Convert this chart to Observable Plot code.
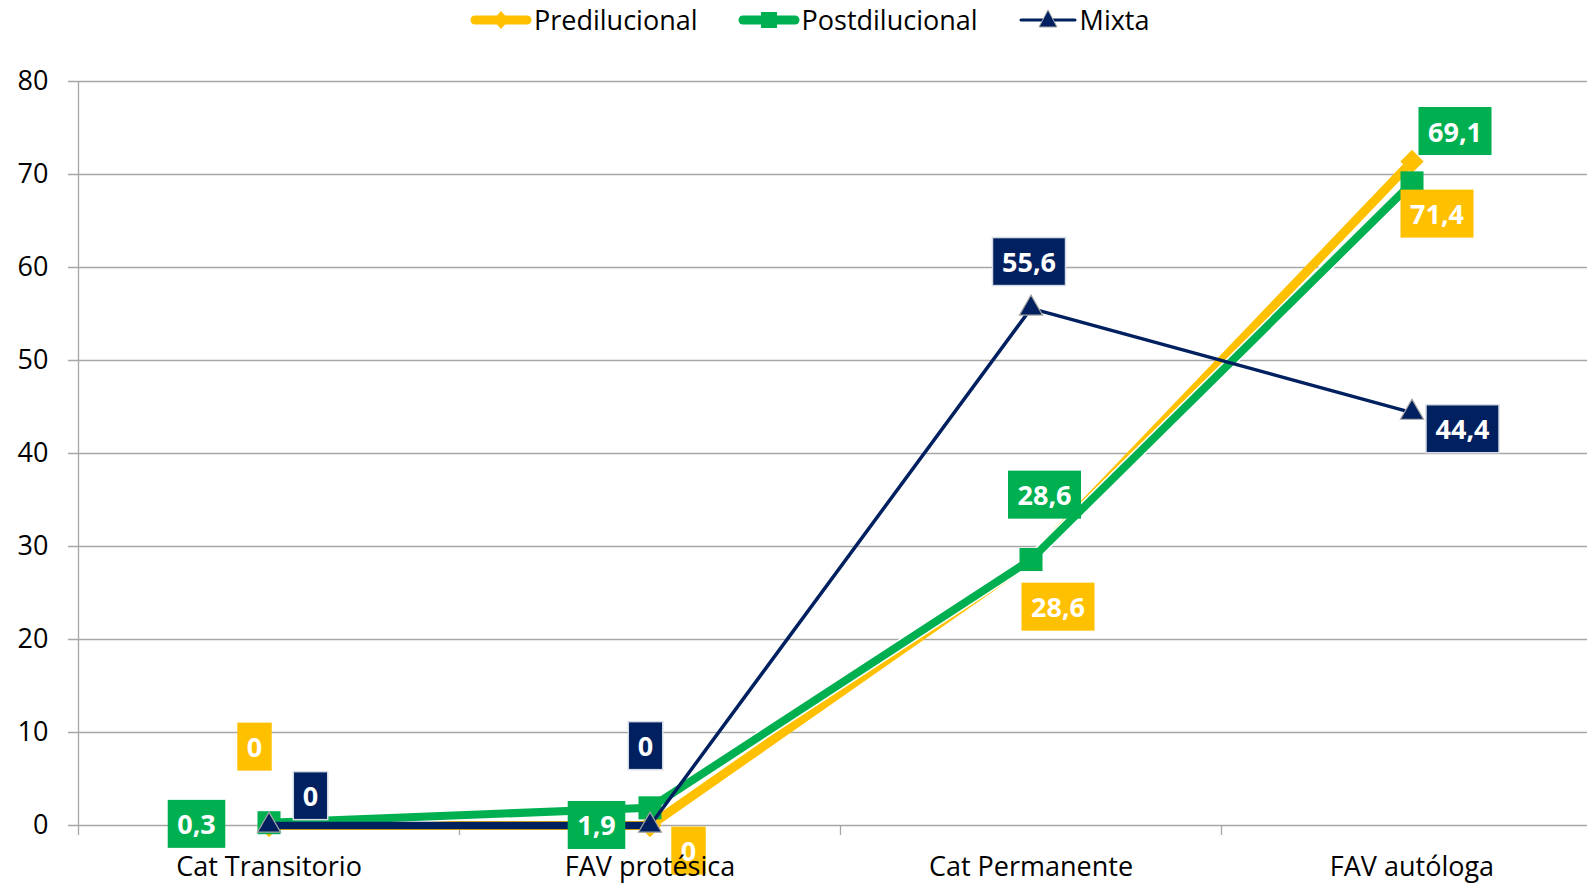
<!DOCTYPE html>
<html>
<head>
<meta charset="utf-8">
<script src="https://cdn.jsdelivr.net/npm/d3@7"></script>
<script src="https://cdn.jsdelivr.net/npm/@observablehq/plot@0.6"></script>
<style>
  body { margin: 0; background: #fff; font-family: "Open Sans", sans-serif; }
  #wrap { width: 1587px; height: 887px; overflow: hidden; position: relative; }
  #legend { height: 40px; display: flex; align-items: center; padding-left: 470px; box-sizing: border-box; }
  .item { display: flex; align-items: center; margin-right: 40px; font-size: 27px; color: #000; line-height: 40px; }
  .item svg { margin-right: 2px; }
  #chart svg { display: block; }
</style>
</head>
<body>
<div id="wrap">
  <div id="legend"></div>
  <div id="chart"></div>
</div>
<script>
// ---- data ----
const categories = ["Cat Transitorio", "FAV protésica", "Cat Permanente", "FAV autóloga"];
const predilucional = [0, 0, 28.6, 71.4];
const postdilucional = [0.3, 1.9, 28.6, 69.1];
const mixta = [0, 0, 55.6, 44.4];
const yTicks = [0, 10, 20, 30, 40, 50, 60, 70, 80];
const seriesNames = ["Predilucional", "Postdilucional", "Mixta"];

// ---- styles ----
const colors = { Predilucional: "#FFC000", Postdilucional: "#00B050", Mixta: "#002060" };
const gridColor = "#a6a6a6";
// label offsets (px) relative to the data point
const labelOffsets = {
  Predilucional: [[-14.5, -77], [38.5, 27], [27, 49], [25, 54]],
  Postdilucional: [[-72.5, 3], [-53.5, 19], [13.5, -63], [43, -50]],
  Mixta: [[41.5, -28], [-4.5, -78], [-2, -45], [50.5, 18]]
};

const toRows = (vals, s) => vals.map((v, i) => ({ series: s, i, cat: categories[i], v }));
const pred = toRows(predilucional, "Predilucional");
const post = toRows(postdilucional, "Postdilucional");
const mix = toRows(mixta, "Mixta");
const bySeries = { Predilucional: pred, Postdilucional: post, Mixta: mix };
const fmt = v => String(v).replace(".", ",");

// ---- legend ----
const legend = document.getElementById("legend");
const swatches = {
  Predilucional: `<svg width="62" height="40"><line x1="5" y1="20" x2="57" y2="20" stroke="${colors.Predilucional}" stroke-width="9" stroke-linecap="round"/><path d="M31,11 L39,20 L31,29 L23,20Z" fill="${colors.Predilucional}"/></svg>`,
  Postdilucional: `<svg width="62" height="40"><line x1="5" y1="20" x2="57" y2="20" stroke="${colors.Postdilucional}" stroke-width="9" stroke-linecap="round"/><rect x="23" y="12" width="16" height="16" fill="${colors.Postdilucional}"/></svg>`,
  Mixta: `<svg width="60" height="40"><line x1="3" y1="20" x2="57" y2="20" stroke="${colors.Mixta}" stroke-width="3" stroke-linecap="round"/><path d="M30,10 L39,27 L21,27Z" fill="${colors.Mixta}" stroke="#a6a6a6" stroke-width="1"/></svg>`
};
for (const s of seriesNames) {
  const d = document.createElement("div");
  d.className = "item";
  d.innerHTML = swatches[s] + `<span>${s}</span>`;
  legend.appendChild(d);
}

// ---- chart ----
const labelMarks = [];
const labelSeries = [];
for (const s of seriesNames) {
  bySeries[s].forEach((row, k) => {
    const [dx, dy] = labelOffsets[s][k];
    labelSeries.push(s);
    labelMarks.push(Plot.text([row], {
      x: "i", y: "v", text: d => fmt(d.v), dx, dy,
      fill: "white", fontWeight: "bold", fontSize: 27,
      fontFamily: "Open Sans"
    }));
  });
}

const chart = Plot.plot({
  width: 1587,
  height: 847,
  marginLeft: 78,
  marginRight: 0,
  marginTop: 41,
  marginBottom: 62,
  style: { fontFamily: "Open Sans", color: "#000", background: "#fff", overflow: "visible" },
  x: { type: "linear", domain: [-0.5, 3.5], range: [78, 1602], label: null },
  y: { domain: [0, 80], range: [785, 41], label: null },
  marks: [
    Plot.ruleY(yTicks, { stroke: gridColor, strokeWidth: 1.3, insetLeft: -10 }),
    Plot.ruleX([-0.5], { y1: 0, y2: 80, stroke: gridColor, strokeWidth: 1.3 }),
    Plot.axisX({ ticks: [-0.5, 0.5, 1.5, 2.5], tickSize: 10, tickFormat: () => "", stroke: gridColor, strokeWidth: 1.3, label: null }),
    // Predilucional
    Plot.line(pred, { x: "i", y: "v", stroke: colors.Predilucional, strokeWidth: 9, strokeLinejoin: "round" }),
    Plot.dot(pred, { x: "i", y: "v", symbol: "diamond2", r: 10.5, fill: colors.Predilucional, stroke: "none" }),
    // Postdilucional
    Plot.line(post, { x: "i", y: "v", stroke: "white", strokeWidth: 11, strokeLinejoin: "round" }),
    Plot.line(post, { x: "i", y: "v", stroke: colors.Postdilucional, strokeWidth: 8, strokeLinejoin: "round" }),
    Plot.dot(post, { x: "i", y: "v", symbol: "square", r: 13, fill: colors.Postdilucional, stroke: "none" }),
    // Mixta
    Plot.line(mix.slice(0, 2), { x: "i", y: "v", stroke: colors.Mixta, strokeWidth: 7.5 }),
    Plot.line(mix.slice(1), { x: "i", y: "v", stroke: colors.Mixta, strokeWidth: 3.5, strokeLinejoin: "round" }),
    Plot.dot(mix, { x: "i", y: "v", symbol: "triangle", r: 8.6, fill: colors.Mixta, stroke: "#a6a6a6", strokeWidth: 1.2 }),
    // data labels
    ...labelMarks,
    // axes
    Plot.axisY({ ticks: yTicks, tickSize: 0, tickPadding: 30, fontSize: 27, tickFormat: d => String(d), label: null }),
    Plot.axisX({ ticks: [0, 1, 2, 3], tickFormat: i => categories[i], tickSize: 0, tickPadding: 31, fontSize: 27, label: null })
  ]
});
document.getElementById("chart").appendChild(chart);

// add coloured boxes behind the data labels
const NS = "http://www.w3.org/2000/svg";
const labelGroups = Array.from(chart.querySelectorAll("g")).filter(g =>
  g.getAttribute("fill") === "white" && g.getAttribute("font-weight") === "bold");
labelGroups.forEach((g, k) => {
  const s = labelSeries[k];
  g.querySelectorAll("text").forEach(t => {
    const b = t.getBBox();
    const padX = 9.5, h = 48;
    const cy = b.y + b.height / 2;
    const r = document.createElementNS(NS, "rect");
    r.setAttribute("x", b.x - padX);
    r.setAttribute("y", cy - h / 2);
    r.setAttribute("width", b.width + 2 * padX);
    r.setAttribute("height", h);
    r.setAttribute("fill", colors[s]);
    if (s === "Mixta") { r.setAttribute("stroke", "#d6dce5"); r.setAttribute("stroke-width", "1.5"); }
    const tr = t.getAttribute("transform");
    if (tr) r.setAttribute("transform", tr);
    t.parentNode.insertBefore(r, t);
  });
});
</script>
</body>
</html>
